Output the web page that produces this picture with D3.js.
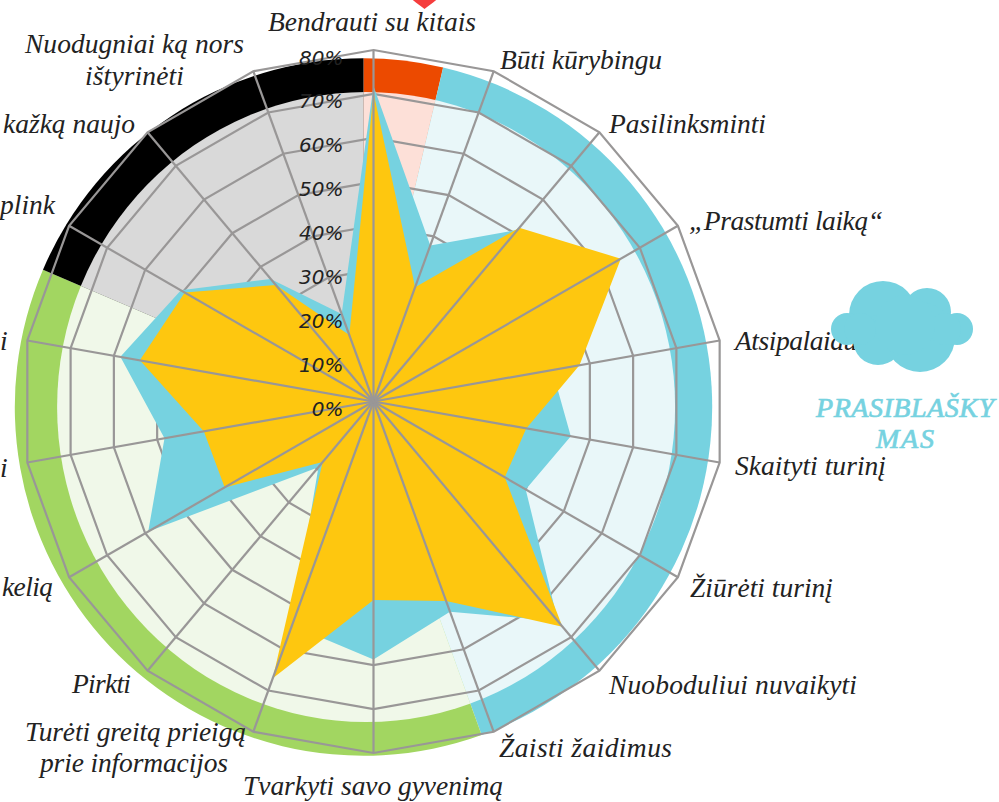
<!DOCTYPE html>
<html><head><meta charset="utf-8">
<script src="https://cdn.jsdelivr.net/npm/d3@7"></script>
<style>html,body{margin:0;padding:0;background:#fff;overflow:hidden}svg{display:block}</style>
</head><body><div id="c"></div>
<script>
// ---- data ----
const axisCount = 18;
const blueValues = [71.8,37.8,51,50,41.3,45.6,40,65.3,50.9,58.7,54.2,19.5,59.2,48.3,58.5,50.6,36.4,21.2];
const yellowValues = [70.3,27.7,51.6,65,47.6,35.3,34.5,66.9,48.3,45.2,67,18,39.1,39.2,54,49.6,34.6,16.1];
const tickValues = [0,10,20,30,40,50,60,70,80];
const ringValues = [10,20,30,40,50,60,70,80];
const bandNames = ["red","blue","green","black"];
const bandStartDeg = [0,13.2,160.2,293.2];
const bandEndDeg = [13.2,160.2,293.2,360];
const bandStrong = ["#ec4a00","#76d2e0","#a2d661","#000000"];
const bandPale = ["#fde0d8","#e9f7f9","#f0f8e9","#d9d9d9"];
const labelTexts = ["Bendrauti su kitais","Būti kūrybingu","Pasilinksminti","„Prastumti laiką“","Atsipalaiduoti","Skaityti turinį","Žiūrėti turinį","Nuoboduliui nuvaikyti","Žaisti žaidimus","Tvarkyti savo gyvenimą","Turėti greitą prieigą","prie informacijos","Pirkti","kelią","i","i","plink","kažką naujo","Nuodugniai ką nors","ištyrinėti"];
const cloudTitle = ["PRASIBLAŠKY","MAS"];

// ---- layout ----
const W=999,H=802;
const cx=373.5, cy=401.5, bx=363.5, by=407;
const labelX=[268,500,609,689,735,735,690,609,499,243,25,40,72,2,0,0,0,3,25,85];
const labelY=[31,69,133,230,350,475,597,694,757,795,741,772,693,596,350,477,214,133,53,85];
const labelW=[208,162,157,194,150,151,143,248,173,260,221,188,59,51,5,5,55,132,219,99];

const svg=d3.select("#c").append("svg").attr("width",W).attr("height",H);
const r=d3.scaleLinear().domain([0,80]).range([0,351.5]);
const ang=d3.scaleLinear().domain([0,axisCount]).range([0,2*Math.PI]);
const rad=d=>d*Math.PI/180;
const defs=svg.append("defs");
defs.append("clipPath").attr("id","disc").append("ellipse").attr("cx",366.1).attr("cy",by).attr("rx",309).attr("ry",315);

// bands
const bands=bandNames.map((n,i)=>({n,s:rad(bandStartDeg[i]),e:rad(bandEndDeg[i]),c:bandStrong[i],p:bandPale[i]}));
const g0=svg.append("g").attr("transform",`translate(${bx},${by})`);
g0.selectAll("path").data(bands).join("path")
  .attr("d",d=>d3.arc()({innerRadius:0,outerRadius:348.7,startAngle:d.s,endAngle:d.e}))
  .attr("fill",d=>d.c);
const g1=svg.append("g").attr("clip-path","url(#disc)").append("g").attr("transform",`translate(${bx},${by})`);
g1.selectAll("path").data(bands).join("path")
  .attr("d",d=>d3.arc()({innerRadius:0,outerRadius:340,startAngle:d.s,endAngle:d.e}))
  .attr("fill",d=>d.p);

const plot=svg.append("g").attr("transform",`translate(${cx},${cy})`);
const radial=d3.lineRadial().angle((d,i)=>ang(i)).radius(d=>r(d)).curve(d3.curveLinearClosed);
const grey="#999797";

// rings
plot.selectAll(".ring").data(ringValues).join("path").attr("class","ring")
  .attr("d",v=>radial(d3.range(axisCount).map(()=>v)))
  .attr("fill","none").attr("stroke",grey).attr("stroke-width",2.2);

// series
plot.append("path").attr("d",radial(blueValues)).attr("fill","#76d2e0");
plot.append("path").attr("d",radial(yellowValues)).attr("fill","#fec70f");

// spokes
plot.selectAll(".spoke").data(d3.range(axisCount)).join("path").attr("class","spoke")
  .attr("d",i=>d3.lineRadial()([[0,0],[ang(i),r(80)]]))
  .attr("stroke",grey).attr("stroke-width",2.2).attr("fill","none");

// tick labels
plot.selectAll(".tick").data(tickValues).join("text").attr("class","tick")
  .attr("x",-30).attr("y",v=>-r(v)+14.5)
  .attr("text-anchor","end")
  .attr("font-family","'DejaVu Sans'").attr("font-style","italic").attr("font-size",20)
  .attr("fill","#222").text(v=>v+"%");

// labels
svg.append("g").selectAll("text").data(labelTexts).join("text")
  .attr("x",(d,i)=>labelX[i]).attr("y",(d,i)=>labelY[i])
  .attr("textLength",(d,i)=>labelW[i]).attr("lengthAdjust","spacing")
  .attr("font-family","'Liberation Serif'").attr("font-style","italic").attr("font-size",27.5)
  .attr("fill","#222").text(d=>d);

// red heart, cropped by the top edge
svg.append("path").attr("d","M409,-6 C411,1 419,4 424.5,9 C430,4 438,1 440,-6 Z").attr("fill","#f53d3d");

// cloud
const cloudCircles=[[883,315,34],[927,312,24],[920,337,35],[878,340,25],[847,329,16],[860,329,16],[957,329,16],[945,329,16],[905,325,30]];
svg.append("g").attr("fill","#76d2e0").selectAll("circle").data(cloudCircles).join("circle")
  .attr("cx",d=>d[0]).attr("cy",d=>d[1]).attr("r",d=>d[2]);
svg.append("g").selectAll("text").data(cloudTitle).join("text")
  .attr("x",905).attr("y",(d,i)=>417+i*31).attr("text-anchor","middle")
  .attr("font-family","'Liberation Serif'").attr("font-style","italic").attr("font-size",28)
  .attr("fill","#76d2e0").attr("stroke","#76d2e0").attr("stroke-width",0.7)
  .attr("textLength",(d,i)=>i==0?178:58).attr("lengthAdjust","spacing").text(d=>d);
</script></body></html>
